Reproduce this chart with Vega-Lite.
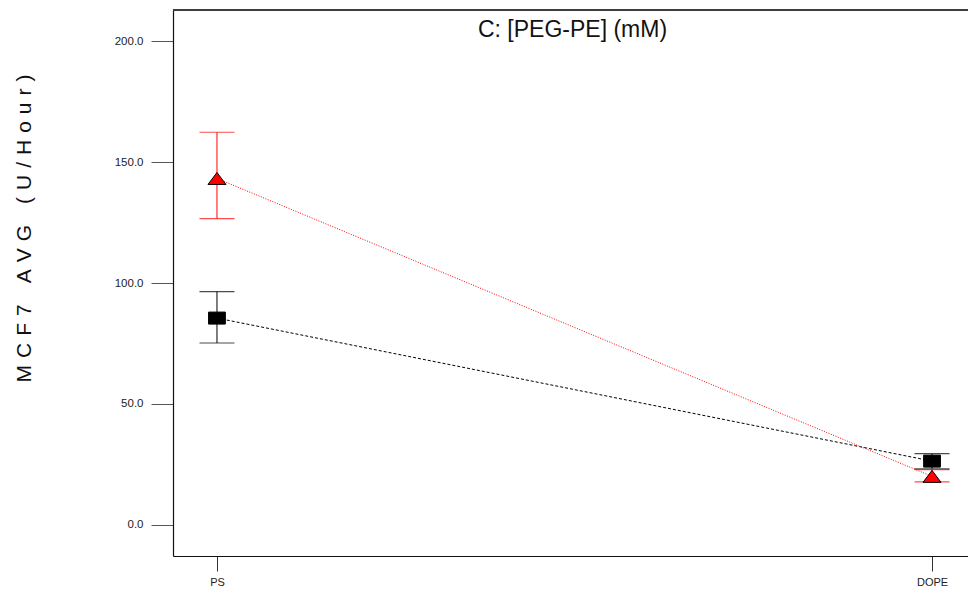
{
  "$schema": "https://vega.github.io/schema/vega-lite/v6.json",
  "width": 795,
  "height": 546,
  "autosize": "none",
  "padding": {"left": 173, "top": 10, "right": 0, "bottom": 39},
  "background": "white",
  "config": {
    "font": "Liberation Sans",
    "view": {"stroke": null},
    "axis": {"grid": false, "labelFont": "Liberation Sans", "titleFont": "Liberation Sans", "domainColor": "#111111", "domainWidth": 1.2}
  },
  "title": {
    "text": "C: [PEG-PE] (mM)",
    "fontSize": 23,
    "fontWeight": "normal",
    "color": "#111111",
    "baseline": "alphabetic",
    "anchor": "middle",
    "offset": -29,
    "dy": 22,
    "dx": 2
  },
  "data": {
    "values": [
      {"lipid": "PS", "level": "low", "mean": 85.5, "lo": 75.2, "hi": 96.4},
      {"lipid": "DOPE", "level": "low", "mean": 26.4, "lo": 23.2, "hi": 29.5},
      {"lipid": "PS", "level": "high", "mean": 143.2, "lo": 126.6, "hi": 162.3},
      {"lipid": "DOPE", "level": "high", "mean": 20.1, "lo": 17.8, "hi": 22.9}
    ]
  },
  "encoding": {
    "x": {
      "field": "lipid",
      "type": "nominal",
      "sort": null,
      "scale": {"type": "point", "domain": ["PS", "DOPE"], "padding": 0.0559, "align": 0.55},
      "axis": {
        "title": null,
        "labelAngle": 0,
        "domain": true,
        "tickSize": 15,
        "tickColor": "#333333",
        "labelFontSize": 11,
        "labelColor": "#222222",
        "labelPadding": 5
      }
    }
  },
  "layer": [
    {
      "mark": {"type": "rule", "strokeWidth": 1.2, "color": "#333333"},
      "encoding": {
        "x": {"value": 0},
        "x2": {"value": 795},
        "y": {"datum": 212.81, "type": "quantitative"}
      }
    },
    {
      "mark": {"type": "rule", "strokeWidth": 1},
      "encoding": {
        "y": {
          "field": "lo",
          "type": "quantitative",
          "scale": {"domain": [-12.81, 212.81], "nice": false, "zero": false},
          "axis": {
            "values": [0, 50, 100, 150, 200],
            "format": ".1f",
            "domain": true,
            "tickSize": 22,
            "tickColor": "#555555",
            "labelFontSize": 11.5,
            "labelColor": "#222222",
            "labelPadding": 8,
            "title": "M\u2004C\u2004F\u20047\u2003A\u2004V\u2004G\u2003(\u2004U\u2004/\u2004H\u2004o\u2004u\u2004r\u2004)",
            "titleFontSize": 21,
            "titleFontWeight": "normal",
            "titleColor": "#111111",
            "titleAngle": 270,
            "titleAlign": "center",
            "titleBaseline": "alphabetic",
            "titleX": -143,
            "titleY": 218
          }
        },
        "y2": {"field": "hi"},
        "color": {
          "field": "level",
          "type": "nominal",
          "scale": {"domain": ["low", "high"], "range": ["#000000", "#ff0000"]},
          "legend": null
        }
      }
    },
    {
      "mark": {"type": "tick", "size": 35, "thickness": 1.2},
      "encoding": {
        "y": {"field": "lo", "type": "quantitative"},
        "color": {"field": "level", "type": "nominal", "legend": null}
      }
    },
    {
      "mark": {"type": "tick", "size": 35, "thickness": 1.2},
      "encoding": {
        "y": {"field": "hi", "type": "quantitative"},
        "color": {"field": "level", "type": "nominal", "legend": null}
      }
    },
    {
      "mark": {"type": "line", "strokeWidth": 1},
      "encoding": {
        "y": {"field": "mean", "type": "quantitative"},
        "color": {"field": "level", "type": "nominal", "legend": null},
        "strokeDash": {
          "field": "level",
          "type": "nominal",
          "scale": {"domain": ["low", "high"], "range": [[3, 2], [1, 1.5]]},
          "legend": null
        }
      }
    },
    {
      "mark": {"type": "point", "filled": true, "stroke": "#000000", "strokeWidth": 1, "opacity": 1, "size": 144},
      "encoding": {
        "y": {"field": "mean", "type": "quantitative"},
        "fill": {
          "field": "level",
          "type": "nominal",
          "scale": {"domain": ["low", "high"], "range": ["#000000", "#ff0000"]},
          "legend": null
        },
        "shape": {
          "field": "level",
          "type": "nominal",
          "scale": {
            "domain": ["low", "high"],
            "range": ["M-1.4,-1L1.4,-1L1.4,1L-1.4,1Z", "M0,-1L1.5,1L-1.5,1Z"]
          },
          "legend": null
        }
      }
    }
  ]
}
